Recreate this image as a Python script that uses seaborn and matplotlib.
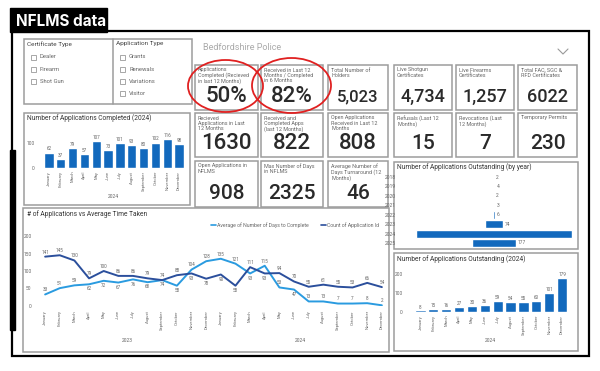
import numpy as np
import pandas as pd
import seaborn as sns
import matplotlib.pyplot as plt
from matplotlib.patches import Rectangle, Ellipse

# ---- data ----
months = ["January", "February", "March", "April", "May", "June", "July",
          "August", "September", "October", "November", "December"]
completed_2024 = [62, 37, 79, 57, 107, 73, 101, 93, 80, 102, 116, 98]

count_app_id = [141, 145, 130, 79, 100, 86, 86, 79, 74, 88, 93, 78,
                90, 58, 111, 93, 94, 70, 55, 61, 55, 53, 66, 54]
avg_days = [33, 51, 59, 62, 72, 67, 76, 68, 74, 58, 104, 128,
            135, 121, 93, 115, 53, 47, 13, 13, 7, 7, 8, 2]

years_out = ["2018", "2019", "2020", "2021", "2022", "2023", "2024", "2025"]
outstanding_by_year = [2, 4, 2, 3, 6, 74, 636, 177]

outstanding_2024 = [8, 15, 16, 27, 30, 36, 59, 54, 55, 60, 101, 179]

kpi_titles = [
    "Applications\nCompleted (Recieved\nin last 12 Months)",
    "Received in Last 12\nMonths / Completed\nin 6 Months",
    "Total Number of\nHolders",
    "Live Shotgun\nCertificates",
    "Live Firearms\nCertificates",
    "Total FAC, SGC &\nRFD Certificates",
    "Recieved\nApplications in Last\n12 Months",
    "Received and\nCompleted Apps\n(last 12 Months)",
    "Open Applications\nReceived in Last 12\nMonths",
    "Refusals (Last 12\nMonths)",
    "Revocations (Last\n12 Months)",
    "Temporary Permits",
    "Open Applications in\nNFLMS",
    "Max Number of Days\nin NFLMS",
    "Average Number of\nDays Turnaround (12\nMonths)",
]
kpi_values = ["50%", "82%", "5,023", "4,734", "1,257", "6022",
              "1630", "822", "808", "15", "7", "230",
              "908", "2325", "46"]

cert_types = ["Dealer", "Firearm", "Shot Gun"]
app_types = ["Grants", "Renewals", "Variations", "Visitor"]

# ---- style ----
sns.set_theme(style="white")
plt.rcParams['font.family'] = ['Roboto', 'DejaVu Sans']

W, H = 600, 371
BAR = "#1269bd"
DARK = "#2b4f9c"
LIGHT = "#2a9be0"
GREY_T = "#666666"
BORDER = "#9c9c9c"

fig = plt.figure(figsize=(6, 3.71), dpi=100)
bg = fig.add_axes([0, 0, 1, 1])
bg.set_xlim(0, W)
bg.set_ylim(H, 0)
bg.axis("off")


def px_axes(x0, y0, x1, y1):
    a = fig.add_axes([x0 / W, 1 - y1 / H, (x1 - x0) / W, (y1 - y0) / H])
    a.set_facecolor("none")
    return a


def box(x0, y0, x1, y1, lw=1.1, ec=BORDER):
    bg.add_patch(Rectangle((x0, y0), x1 - x0, y1 - y0, fill=False, ec=ec, lw=lw))


# title tab + frame
bg.add_patch(Rectangle((10, 8), 97, 24, color="black"))
bg.text(16, 21, "NFLMS data", color="white", fontsize=11, fontweight="bold",
        va="center", ha="left", family=["Inter", "DejaVu Sans"])
bg.add_patch(Rectangle((12, 31), 577, 325, fill=False, ec="black", lw=1.6))
bg.add_patch(Rectangle((10, 150), 5, 180, color="black"))

# filters
box(24, 39, 192, 104)
bg.plot([113, 113], [39, 104], color=BORDER, lw=1.1)
bg.text(27, 44, "Certificate Type", fontsize=4.6, color="#444", va="center")
bg.text(116, 44, "Application Type", fontsize=4.6, color="#444", va="center")
for i, t in enumerate(cert_types):
    y = 57 + i * 12.3
    bg.add_patch(Rectangle((31, y - 2.5), 5, 5, fill=False, ec="#999", lw=0.6))
    bg.text(40, y, t, fontsize=4.2, color=GREY_T, va="center")
for i, t in enumerate(app_types):
    y = 57 + i * 12.3
    bg.add_patch(Rectangle((120, y - 2.5), 5, 5, fill=False, ec="#999", lw=0.6))
    bg.text(129, y, t, fontsize=4.2, color=GREY_T, va="center")

bg.text(203, 47, "Bedfordshire Police", fontsize=6.5, color="#aaaaaa", va="center")
bg.plot([558, 563, 568], [49, 54, 49], color="#999", lw=0.8)

# KPI cards
cols6 = [(195, 258), (261, 323), (328, 388), (394, 452), (456, 514), (518, 577)]
rows = [(65, 110), (113, 157), (161, 207)]
val_sizes = [16, 16, 12, 13, 13, 13, 16, 16, 16, 15, 15, 15, 15, 15, 15]
k = 0
for r, (y0, y1) in enumerate(rows):
    ncol = 3 if r == 2 else 6
    for c in range(ncol):
        x0, x1 = cols6[c]
        box(x0, y0, x1, y1)
        bg.text(x0 + 3, y0 + 2.5, kpi_titles[k], fontsize=3.9, color=GREY_T,
                va="top", ha="left", linespacing=1.05)
        bg.text((x0 + x1) / 2, y0 + 0.7 * (y1 - y0), kpi_values[k],
                fontsize=val_sizes[k], fontweight="medium", color="#2a2a2a",
                ha="center", va="center")
        k += 1

# red circles
bg.add_patch(Ellipse((225.5, 86), 75, 52, fill=False, ec="#e02020", lw=1.3))
bg.add_patch(Ellipse((291.5, 85.5), 79, 55, fill=False, ec="#e02020", lw=1.3))

# ---- completed 2024 bar chart ----
box(24, 113, 190, 205)
bg.text(27, 118, "Number of Applications Completed (2024)", fontsize=4.8, color="#333", va="center")
ax1 = px_axes(43, 135.5, 185, 168)
df1 = pd.DataFrame({"month": months, "n": completed_2024})
sns.barplot(data=df1, x="month", y="n", color=BAR, saturation=1, ax=ax1)
ax1.set_ylim(0, 130)
ax1.set_yticks([0, 100])
for i, v in enumerate(completed_2024):
    ax1.text(i, v + 4, str(v), ha="center", va="bottom", fontsize=3.3, color=GREY_T)
ax1.tick_params(axis="x", labelrotation=90, labelsize=3, colors=GREY_T, length=0, pad=2)
ax1.tick_params(axis="y", labelsize=3.5, colors=GREY_T, length=0, pad=6)
ax1.set_xlabel("")
ax1.set_ylabel("")
sns.despine(ax=ax1, left=True, bottom=True)
bg.text(113, 197, "2024", fontsize=3.5, color=GREY_T, ha="center", va="center")

# ---- line chart ----
box(23, 208, 389, 352)
bg.text(27, 214, "# of Applications vs Average Time Taken", fontsize=4.8, color="#333", va="center")
ax2 = px_axes(40, 236, 387, 306)
df2 = pd.DataFrame({"i": np.arange(24), "count": count_app_id, "avg": avg_days})
sns.lineplot(data=df2, x="i", y="avg", color=LIGHT, lw=1.4, ax=ax2)
sns.lineplot(data=df2, x="i", y="count", color=DARK, lw=1.4, ax=ax2)
ax2.set_xlim(-0.35, 23.35)
ax2.set_ylim(0, 200)
ax2.set_yticks([0, 50, 100, 150, 200])
ax2.set_xticks(range(24))
ax2.set_xticklabels(months + months)
for i in range(24):
    c, a = count_app_id[i], avg_days[i]
    if c >= a:
        ax2.text(i, c + 6, str(c), ha="center", va="bottom", fontsize=3.3, color=GREY_T)
        dy = 6 if a < 20 or c - a > 40 else -6
        ax2.text(i, a + dy, str(a), ha="center", va="bottom" if dy > 0 else "top",
                 fontsize=3.3, color=GREY_T)
    else:
        ax2.text(i, a + 6, str(a), ha="center", va="bottom", fontsize=3.3, color=GREY_T)
        ax2.text(i, c - 6, str(c), ha="center", va="top", fontsize=3.3, color=GREY_T)
ax2.tick_params(axis="x", labelrotation=90, labelsize=3, colors=GREY_T, length=0, pad=3)
ax2.tick_params(axis="y", labelsize=3.5, colors=GREY_T, length=0, pad=6)
ax2.set_xlabel("")
ax2.set_ylabel("")
sns.despine(ax=ax2, left=True, bottom=True)
bg.text(127, 340, "2023", fontsize=3.5, color=GREY_T, ha="center", va="center")
bg.text(300, 340, "2024", fontsize=3.5, color=GREY_T, ha="center", va="center")
# legend
bg.plot([211, 216], [225, 225], color=LIGHT, lw=1.2)
bg.text(217, 225, "Average of Number of Days to Complete", fontsize=3.7, color=GREY_T, va="center")
bg.plot([321, 326], [225, 225], color=DARK, lw=1.2)
bg.text(327, 225, "Count of Application Id", fontsize=3.7, color=GREY_T, va="center")

# ---- outstanding by year (funnel) ----
box(394, 162, 578, 249)
bg.text(397, 167, "Number of Applications Outstanding (by year)", fontsize=4.8, color="#333", va="center")
ax3 = px_axes(410, 172.3, 578, 247.7)
vals = np.array(outstanding_by_year)
ax3.barh(np.arange(len(vals)), vals, left=-vals / 2, height=0.85, color=BAR)
ax3.set_xlim(-343, 343)
ax3.set_ylim(len(vals) - 0.5, -0.5)
ax3.set_yticks(np.arange(len(vals)))
ax3.set_yticklabels(years_out)
ax3.set_xticks([])
for i, v in enumerate(outstanding_by_year):
    if v < 300:
        ax3.text(v / 2 + 8, i, str(v), va="center", ha="left", fontsize=3.5, color=GREY_T)
ax3.tick_params(axis="y", labelsize=3.6, colors=GREY_T, length=0, pad=10)
sns.despine(ax=ax3, left=True, bottom=True)

# ---- outstanding 2024 bars ----
box(394, 253, 578, 351)
bg.text(397, 259, "Number of Applications Outstanding (2024)", fontsize=4.8, color="#333", va="center")
ax4 = px_axes(414, 274, 568.5, 312)
df4 = pd.DataFrame({"month": months, "n": outstanding_2024})
sns.barplot(data=df4, x="month", y="n", color=BAR, saturation=1, ax=ax4)
ax4.set_ylim(0, 200)
ax4.set_yticks([0, 100, 200])
for i, v in enumerate(outstanding_2024):
    ax4.text(i, v + 5, str(v), ha="center", va="bottom", fontsize=3.3, color=GREY_T)
ax4.tick_params(axis="x", labelrotation=90, labelsize=3, colors=GREY_T, length=0, pad=2)
ax4.tick_params(axis="y", labelsize=3.5, colors=GREY_T, length=0, pad=8)
ax4.set_xlabel("")
ax4.set_ylabel("")
sns.despine(ax=ax4, left=True, bottom=True)
bg.text(490, 340, "2024", fontsize=3.5, color=GREY_T, ha="center", va="center")

fig.savefig("out.png", dpi=100)
